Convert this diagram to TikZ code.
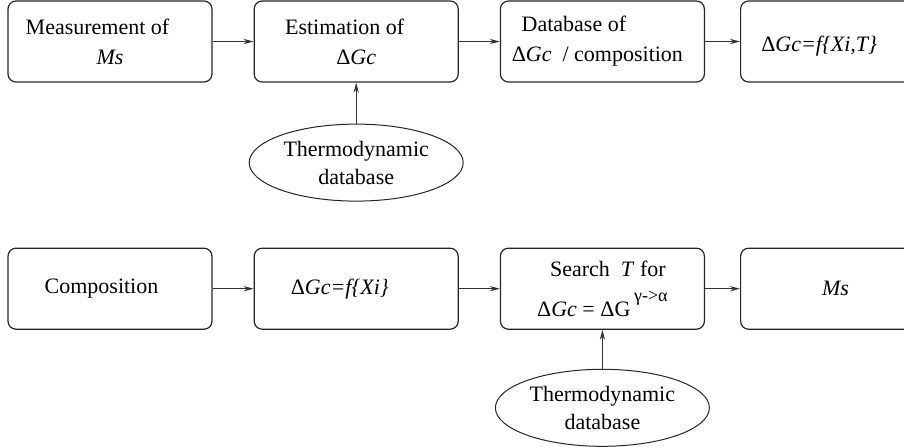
\documentclass[tikz,border=0pt]{standalone}
\usepackage{fontspec}
\setmainfont{LiberationSerif}[Extension=.ttf,UprightFont=*-Regular,ItalicFont=*-Italic,BoldFont=*-Bold,BoldItalicFont=*-BoldItalic]
\usetikzlibrary{arrows.meta,positioning,shapes.geometric}
\tikzset{
 box/.style={draw=black!85,line width=0.6pt,rounded corners=4pt,align=center,minimum width=102pt,minimum height=40.5pt,inner sep=2pt,font=\fontsize{11}{15}\selectfont},
 dbell/.style={ellipse,draw=black!85,line width=0.5pt,align=center,minimum width=107pt,minimum height=38.5pt,inner sep=0pt,font=\fontsize{11}{14}\selectfont},
 arr/.style={-{Stealth[length=5pt,width=2.6pt]},line width=0.5pt,draw=black!80}
}
\newcommand{\dG}{Δ\textit{Gc}}

\begin{document}
\begin{tikzpicture}[x=0.5pt,y=-0.5pt,node distance=20.5pt]
\clip (0,0) rectangle (904,446);
\useasboundingbox (0,0) rectangle (904,446);
% first row
\node[box] (meas) at (110,41.5) {\hspace*{-12.5pt}Measurement of\\ \textit{Ms}};
\node[box,right=of meas] (est) {\hspace*{-11.5pt}Estimation of\\ \dG};
\node[box,right=of est] (dbase) {\hspace*{-28.5pt}Database of\\ \hspace*{-5pt}\dG\ \ / composition};
\node[box,right=17.5pt of dbase] (fxt) {\hspace*{-23.5pt}\raisebox{-2.5pt}[\height][\depth]{\dG\textit{=f\{Xi,T\}}}};
\node[dbell,below=of est] (thermoA) {Thermodynamic\\database};
% second row
\node[box,below=82.5pt of meas] (comp) {\hspace*{-8.5pt}Composition};
\node[box,below=82.5pt of est] (fx) {\hspace*{-16.5pt}\dG\textit{=f\{Xi\}}};
\node[box,below=82.5pt of dbase] (search) {\hspace*{5.5pt}Search \ \textit{T} for\\[5pt] \dG\ = ΔG\,\raisebox{7.5pt}{\fontsize{9}{9}\selectfont γ->α}};
\node[box,below=82.5pt of fxt] (ms) {\hspace*{-7pt}\textit{Ms}};
\node[dbell,below=19.5pt of search] (thermoB) {Thermodynamic\\database};
\draw[arr] (meas)--(est);\draw[arr] (est)--(dbase);\draw[arr] (dbase)--(fxt);
\draw[arr] (thermoA)--(est);
\draw[arr] (comp)--(fx);\draw[arr] (fx)--(search);\draw[arr] (search)--(ms);
\draw[arr] (thermoB)--(search);
\end{tikzpicture}
\end{document}
